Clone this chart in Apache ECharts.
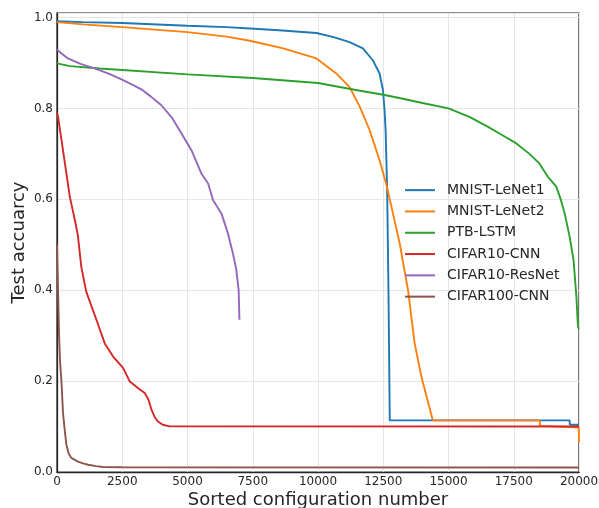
<!DOCTYPE html>
<html>
<head>
<meta charset="utf-8">
<script src="https://cdn.jsdelivr.net/npm/echarts@6/dist/echarts.min.js"></script>
<style>
  html, body { margin: 0; padding: 0; background: #fff; }
  #chart { width: 599px; height: 508px; }
</style>
</head>
<body>
<div id="chart"></div>
<script>
// Sorted test accuracy per configuration index, one [index, accuracy] list per benchmark.
const seriesNames = ['MNIST-LeNet1', 'MNIST-LeNet2', 'PTB-LSTM', 'CIFAR10-CNN', 'CIFAR10-ResNet', 'CIFAR100-CNN'];
const seriesColors = ['#1f77b4', '#ff7f0e', '#2ca02c', '#d62728', '#9467bd', '#8c564b'];

const mnistLeNet1 = [
  [0, 0.992], [1000, 0.990], [2500, 0.988], [5000, 0.982], [6500, 0.979], [7390, 0.976],
  [8500, 0.972], [9940, 0.966], [10600, 0.957], [11210, 0.946], [11720, 0.932],
  [12100, 0.906], [12360, 0.877], [12490, 0.840], [12550, 0.796], [12590, 0.752],
  [12650, 0.62], [12700, 0.40], [12750, 0.1135], [19640, 0.1135], [19650, 0.104], [20000, 0.104]
];
const mnistLeNet2 = [
  [0, 0.990], [1000, 0.985], [2500, 0.979], [5000, 0.968], [6500, 0.958], [7390, 0.949],
  [8670, 0.932], [9940, 0.910], [10700, 0.877], [11210, 0.847], [11600, 0.804],
  [11980, 0.752], [12360, 0.686], [12640, 0.628], [13130, 0.503], [13450, 0.400],
  [13700, 0.284], [13960, 0.210], [14400, 0.1135], [18500, 0.1135], [18510, 0.101],
  [18810, 0.101], [18820, 0.098], [19990, 0.098], [20000, 0.065]
];
const ptbLstm = [
  [0, 0.899], [500, 0.893], [1640, 0.888], [5000, 0.875], [7500, 0.867], [10000, 0.856],
  [11400, 0.841], [12500, 0.830], [13120, 0.823], [14000, 0.812], [15000, 0.800],
  [15820, 0.781], [16500, 0.760], [17100, 0.740], [17600, 0.723], [18100, 0.700],
  [18480, 0.679], [18800, 0.650], [19130, 0.628], [19300, 0.600], [19450, 0.569],
  [19640, 0.518], [19790, 0.467], [19900, 0.386], [19960, 0.320], [20000, 0.315]
];
const cifar10Cnn = [
  [0, 0.790], [40, 0.782], [250, 0.700], [490, 0.606], [700, 0.550], [800, 0.520],
  [930, 0.452], [1120, 0.397], [1510, 0.335], [1830, 0.283], [2150, 0.254], [2530, 0.229],
  [2790, 0.199], [3100, 0.185], [3360, 0.174], [3500, 0.160], [3620, 0.137],
  [3750, 0.120], [3870, 0.111], [4050, 0.104], [4320, 0.1005], [20000, 0.100]
];
const cifar10ResNet = [
  [0, 0.930], [150, 0.922], [420, 0.910], [900, 0.898], [1440, 0.888], [2000, 0.876],
  [2470, 0.864], [2900, 0.852], [3230, 0.842], [3600, 0.826], [4000, 0.807],
  [4400, 0.780], [4770, 0.745], [5150, 0.708], [5530, 0.657], [5790, 0.635],
  [5980, 0.598], [6300, 0.569], [6550, 0.525], [6740, 0.481], [6870, 0.445],
  [6960, 0.400], [6990, 0.335]
];
const cifar100Cnn = [
  [0, 0.500], [40, 0.400], [80, 0.300], [120, 0.240], [170, 0.200], [230, 0.130],
  [300, 0.090], [360, 0.060], [450, 0.040], [550, 0.031], [800, 0.023], [1000, 0.019],
  [1190, 0.016], [1500, 0.013], [1760, 0.011], [2500, 0.0105], [20000, 0.010]
];
const seriesData = [mnistLeNet1, mnistLeNet2, ptbLstm, cifar10Cnn, cifar10ResNet, cifar100Cnn];

const xTicks = [0, 2500, 5000, 7500, 10000, 12500, 15000, 17500, 20000];
const yTicks = [0.0, 0.2, 0.4, 0.6, 0.8, 1.0];

const font = 'DejaVu Sans';
const textColor = '#262626';

const chart = echarts.init(document.getElementById('chart'), null, { renderer: 'canvas' });

chart.setOption({
  animation: false,
  backgroundColor: '#ffffff',
  grid: {
    left: 57, right: 20, top: 13, bottom: 36,
    show: true, borderColor: '#262626', borderWidth: 1.25,
    containLabel: false, outerBoundsMode: 'none'
  },
  xAxis: {
    type: 'value',
    min: xTicks[0], max: xTicks[xTicks.length - 1], interval: 2500,
    name: 'Sorted configuration number',
    nameLocation: 'middle', nameGap: 19, nameMoveOverlap: false,
    nameTextStyle: { fontFamily: font, fontSize: 18, color: textColor },
    axisLine: { show: true, lineStyle: { color: '#262626', width: 1.25 } },
    axisTick: { show: false },
    axisLabel: {
      fontFamily: font, fontSize: 12, color: textColor, margin: 4,
      formatter: v => String(Math.round(v))
    },
    splitLine: { show: true, lineStyle: { color: '#e6e6e6', width: 1 } }
  },
  yAxis: {
    type: 'value',
    min: yTicks[0], max: 1.01, interval: 0.2,
    name: 'Test accuarcy',
    nameLocation: 'middle', nameGap: 29, nameMoveOverlap: false,
    nameTextStyle: { fontFamily: font, fontSize: 18, color: textColor },
    axisLine: { show: true, lineStyle: { color: '#262626', width: 1.25 } },
    axisTick: { show: false },
    axisLabel: {
      fontFamily: font, fontSize: 12, color: textColor, margin: 4,
      formatter: v => yTicks.some(t => Math.abs(t - v) < 1e-9) ? v.toFixed(1) : ''
    },
    splitLine: {
      show: true,
      lineStyle: { color: '#e6e6e6', width: 1 }
    }
  },
  legend: {
    orient: 'vertical',
    left: 400, top: 174.5,
    icon: 'rect',
    itemWidth: 30, itemHeight: 2,
    itemGap: 0,
    textStyle: { fontFamily: font, fontSize: 14, color: textColor, lineHeight: 21.3, padding: [0, 0, 0, 7] },
    data: seriesNames
  },
  series: seriesNames.map((name, i) => ({
    name,
    type: 'line',
    data: seriesData[i],
    showSymbol: false,
    symbol: 'none',
    color: seriesColors[i],
    lineStyle: { width: 1.9, color: seriesColors[i] },
    z: 2 + i
  }))
});
</script>
</body>
</html>
